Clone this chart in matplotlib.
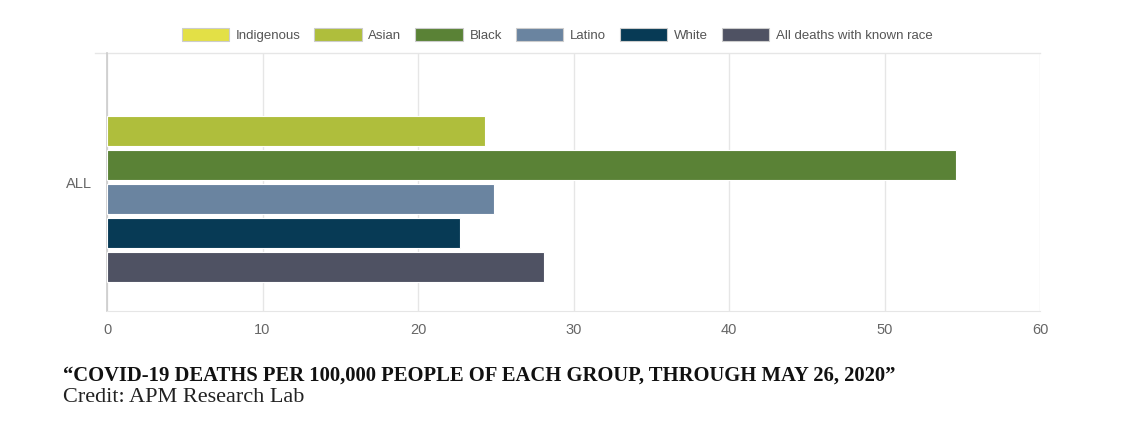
import matplotlib
matplotlib.use("Agg")
import matplotlib.pyplot as plt
from matplotlib.patches import Patch
import numpy as np

categories = ["ALL"]
series_names = ["Indigenous", "Asian", "Black", "Latino", "White", "All deaths with known race"]
series_values = [np.nan, 24.3, 54.6, 24.9, 22.7, 28.1]
colors = ["#e3e046", "#afbe3c", "#5a8236", "#6a84a0", "#073a55", "#4f5263"]
x_ticks = [0, 10, 20, 30, 40, 50, 60]
caption = "\u201cCOVID-19 DEATHS PER 100,000 PEOPLE OF EACH GROUP, THROUGH MAY 26, 2020\u201d"
credit = "Credit: APM Research Lab"

fig = plt.figure(figsize=(11.43, 4.24), dpi=100)
ax = fig.add_axes([107/1143, 1-311/424, (1040-107)/1143, (311-53)/424])

n = len(series_names)
step = 34/258
height = 30/258
for gi, cat in enumerate(categories):
    for i, (name, val, c) in enumerate(zip(series_names, series_values, colors)):
        y = gi + (i - (n-1)/2) * step
        if not np.isnan(val):
            ax.barh(y, val, height=height, color=c, edgecolor="#ffffff", linewidth=0.8, zorder=3)

ax.set_xlim(0, 60)
ax.set_ylim(0.5, -0.5)
ax.set_xticks(x_ticks)
ax.set_xticklabels([str(t) for t in x_ticks])
ax.set_yticks(range(len(categories)))
ax.set_yticklabels(categories)
ax.tick_params(axis="x", length=0, pad=9, labelsize=10.5, labelcolor="#666666")
ax.tick_params(axis="y", length=0, pad=11, labelsize=10.5, labelcolor="#666666")
ax.grid(axis="x", color="#e6e6e6", linewidth=1, zorder=0)
for s in ["top", "right"]:
    ax.spines[s].set_visible(False)
ax.spines["bottom"].set_color("#e6e6e6")
ax.spines["left"].set_color("#cccccc")
ax.spines["left"].set_linewidth(1.2)
# top band edge line extending left
ax.plot([-12/15.55, 60], [-0.5, -0.5], color="#e6e6e6", linewidth=1, clip_on=False, zorder=1)

for lab in ax.get_xticklabels() + ax.get_yticklabels():
    lab.set_family(["Liberation Sans", "DejaVu Sans"])

handles = [Patch(facecolor=c, edgecolor="#cccccc", linewidth=0.8, label=nm) for nm, c in zip(series_names, colors)]
leg = fig.legend(handles=handles, loc="center", bbox_to_anchor=(557/1143, 1-35/424), ncol=n,
                 frameon=False, handlelength=3.6, handleheight=1.1, handletextpad=0.5, columnspacing=1.05,
                 prop={"family": ["Liberation Sans", "DejaVu Sans"], "size": 9.5})
for t in leg.get_texts():
    t.set_color("#555555")

fig.text(63/1143, 1-376/424, caption, family=["Liberation Serif", "DejaVu Serif"], weight="bold",
         size=14.9, color="#111111", va="center", ha="left")
fig.text(63/1143, 1-397/424, credit, family=["Liberation Serif", "DejaVu Serif"],
         size=16, color="#222222", va="center", ha="left")

fig.savefig("out.png", dpi=100)
